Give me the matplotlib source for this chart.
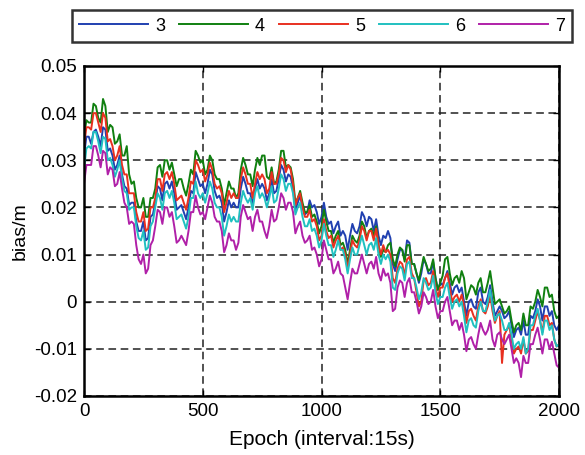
import matplotlib
matplotlib.use("Agg")
import matplotlib.pyplot as plt
import numpy as np

plt.rcParams['font.family'] = ['Liberation Sans', 'DejaVu Sans']
plt.rcParams['axes.unicode_minus'] = False

# epochs every 10, bias values in mm
epoch = np.arange(0, 2001, 10)

bias3 = [31, 35, 35, 33.5, 36, 36.5, 35, 33, 37, 36.5, 32, 32.5, 31, 28, 29, 31, 27, 24.5, 24, 20.5,
         21, 21, 17, 15, 15, 17, 13, 13.5, 18, 18.5, 21, 24.5, 24, 21.5, 25, 25.5, 24, 25.5, 23, 19.5,
         20, 20.5, 19, 17.5, 20, 23.5, 23, 27.5, 26, 24.5, 25, 23, 25, 28, 27, 23.5, 22, 22.5, 21, 17,
         19, 21.5, 20, 21, 20, 20, 24, 26.5, 25, 23, 23, 20.5, 24, 26, 24, 25, 24, 21.5, 23, 26,
         23, 23.5, 26, 29, 28, 25.5, 27, 26.5, 24, 19.5, 21, 22.5, 20, 18.5, 19, 21.5, 20, 20.5, 19, 16.5,
         18, 21, 18, 16.5, 17, 14.5, 16, 17, 14, 15, 14, 11, 14, 16.5, 15, 14.5, 16, 19, 18, 16,
         18, 17.5, 15, 17.5, 14, 12, 14, 13.5, 15, 13.5, 8, 6.5, 9, 11, 11, 9, 13, 12.5, 8, 8,
         6, 4, 6, 9, 8, 6, 6, 8.5, 5, 2.5, 4, 3.5, 5, 6.5, 4, 1.5, 3, 3.5, 2, 3,
         0, -3, 0, 0.5, -1, -1.5, 2, 3, 0, -0.5, 1, 3.5, 0, -3, -2, -1, -2, -3.5, -3, -2,
         -5, -7.5, -6, -5.5, -7, -4, -7, -7, -3, -3.5, -2, 0.5, -1, -4, -1, -1, -3, -2, -5, -6, -5]
bias4 = [35, 38.5, 38, 38, 42, 41.5, 39, 38, 43, 41.5, 36, 37.5, 37, 33.5, 34, 35.5, 31, 31, 33, 27,
         25, 25.5, 22, 20, 20, 22, 18, 18, 22, 22, 24, 28.5, 29, 26.5, 30, 30, 28, 29.5, 27, 24.5,
         26, 26, 24, 22.5, 25, 28, 27, 32, 31, 29.5, 30, 27, 28, 31, 30, 27, 26, 26, 24, 20.5,
         23, 25.5, 24, 24, 22, 23, 28, 30.5, 29, 27, 27, 24.5, 28, 30.5, 29, 31, 31, 26.5, 26, 28.5,
         25, 25.5, 28, 32, 32, 28.5, 29, 28.5, 26, 21, 22, 23.5, 21, 19, 19, 20.5, 18, 18.5, 17, 14.5,
         16, 19.5, 17, 15, 15, 12.5, 14, 15, 12, 12.5, 11, 8, 11, 14, 13, 12.5, 14, 17, 16, 13.5,
         15, 15.5, 14, 16, 12, 9.5, 11, 10.5, 12, 12.5, 9, 7.5, 10, 11.5, 11, 8.5, 12, 12, 8, 8,
         6, 4.5, 7, 9.5, 8, 6.5, 7, 9, 5, 2.5, 4, 5.5, 9, 9.5, 6, 3.5, 5, 5.5, 4, 6.5,
         5, 0.5, 2, 3.5, 3, 1.5, 4, 5, 2, 2, 4, 6.5, 3, -0.5, 0, 0.5, -1, -2.5, -2, -1,
         -4, -6.5, -5, -4.5, -6, -2.5, -5, -5, -1, -1.5, 0, 2.5, 1, -1, 3, 3, 1, 1.5, -2, -3.5, -3]
bias5 = [33, 37, 37, 36.5, 40, 40, 38, 36, 40, 39, 34, 34.5, 33, 30, 31, 33, 29, 27, 27, 23,
         23, 23, 19, 17, 17, 19, 15, 15.5, 20, 20, 22, 26, 26, 23.5, 27, 27.5, 26, 27.5, 25, 21.5,
         22, 22.5, 21, 19.5, 22, 25.5, 25, 30, 29, 27.5, 28, 25.5, 27, 29.5, 28, 25, 24, 24.5, 23, 19,
         21, 23.5, 22, 23, 22, 22, 26, 28.5, 27, 25, 25, 22, 25, 27.5, 26, 27, 26, 23, 24, 27.5,
         25, 25, 27, 30.5, 30, 27.5, 29, 28, 25, 20.5, 22, 23, 20, 18, 18, 19.5, 17, 17.5, 16, 13,
         14, 17.5, 15, 13.5, 14, 11.5, 13, 14, 11, 11.5, 10, 7, 10, 13, 12, 11.5, 13, 16, 15, 13,
         15, 15, 13, 15.5, 12, 10, 12, 10.5, 11, 10, 5, 4, 7, 8.5, 8, 5.5, 9, 9.5, 6, 5,
         2, -1, 0, 4.5, 5, 3.5, 4, 6.5, 3, 1, 3, 3, 5, 6, 3, 0, 1, 1.5, 0, 1.5,
         -1, -4.5, -2, -1.5, -3, -4, -1, 0.5, -2, -2.5, -1, 1.5, -2, -4.5, -3, -2, -13, -7, -6, -5,
         -8, -11, -10, -9.5, -11, -8, -11, -10.5, -6, -6, -4, -2, -4, -6.5, -3, -3, -5, -4.5, -8, -9.5, -9]
bias6 = [28, 32.5, 33, 32.5, 36, 36, 34, 31.5, 35, 34.5, 30, 30.5, 29, 26.5, 28, 30, 26, 23.5, 23, 19.5,
         20, 20, 16, 13.5, 13, 15, 11, 11.5, 16, 17, 20, 23, 22, 19.5, 23, 23.5, 22, 23.5, 21, 17.5,
         18, 18.5, 17, 15.5, 18, 22, 22, 25.5, 23, 22, 23, 21, 23, 25.5, 24, 21, 20, 20, 18, 14,
         16, 18.5, 17, 18, 17, 17, 21, 23.5, 22, 21, 22, 19.5, 23, 24.5, 22, 23, 22, 20, 22, 24.5,
         21, 21.5, 24, 27, 26, 23.5, 25, 25, 23, 18.5, 20, 21, 18, 16, 16, 17.5, 15, 15.5, 14, 11.5,
         13, 16.5, 14, 12, 12, 9.5, 11, 13, 11, 11, 9, 6, 9, 11.5, 10, 10, 12, 14, 12, 10,
         12, 12.5, 11, 13.5, 10, 8, 10, 9, 10, 8.5, 3, 2.5, 6, 7.5, 7, 4.5, 8, 8.5, 5, 5,
         3, 0.5, 2, 5, 4, 2.5, 3, 5.5, 2, -0.5, 1, 1, 3, 4, 1, -1.5, 0, 0.5, -1, 0,
         -3, -6.5, -4, -3.5, -5, -5.5, -2, 0, -2, -2, 0, 2.5, -1, -4, -3, -2.5, -4, -6, -6, -4.5,
         -7, -10, -9, -8.5, -10, -7.5, -11, -10, -5, -5, -3, -1.5, -4, -7, -4, -4, -6, -5, -8, -9.5, -9]
bias7 = [25, 29, 29, 29, 33, 33, 31, 28.5, 32, 31.5, 27, 28.5, 28, 24.5, 25, 27.5, 24, 21, 20, 16.5,
         17, 16.5, 12, 9, 8, 10, 6, 7, 12, 13, 16, 19.5, 19, 16.5, 20, 20, 18, 19, 16, 12.5,
         13, 14, 13, 12, 15, 19, 19, 22.5, 20, 18.5, 19, 17.5, 20, 22.5, 21, 18, 17, 17, 15, 10.5,
         12, 14.5, 13, 13, 11, 12.5, 18, 20.5, 19, 17.5, 18, 15, 18, 19.5, 17, 17, 15, 13.5, 16, 19.5,
         17, 17.5, 20, 23, 22, 19.5, 21, 21, 19, 14.5, 16, 17, 14, 12.5, 13, 14, 11, 11.5, 10, 7.5,
         9, 13, 11, 9, 9, 6, 7, 8.5, 6, 5.5, 3, 0.5, 4, 7, 6, 6, 8, 10, 8, 6,
         8, 8.5, 7, 9.5, 6, 4.5, 7, 5.5, 6, 4, -2, -1.5, 3, 4.5, 4, 1, 4, 5, 2, 2,
         0, -2.5, -1, 2, 1, -0.5, 0, 2.5, -1, -3.5, -2, -2, 0, 1, -2, -5, -4, -4, -6, -4.5,
         -7, -10.5, -8, -7.5, -9, -10, -7, -4.5, -6, -7, -6, -4, -8, -9.5, -7, -6.5, -8, -9, -8, -7,
         -10, -13, -12, -13, -16, -11.5, -13, -13, -9, -9, -7, -5.5, -8, -11, -8, -8, -10, -8.5, -11, -13.5, -14]

names = ['3', '4', '5', '6', '7']
series = [bias3, bias4, bias5, bias6, bias7]
colors = ['#2040b0', '#108010', '#e83020', '#20c0c0', '#b020a8']

yticks = [-0.02, -0.01, 0, 0.01, 0.02, 0.03, 0.04, 0.05]
ylabels = ['-0.02', '-0.01', '0', '0.01', '0.02', '0.03', '0.04', '0.05']
xticks = [0, 500, 1000, 1500, 2000]

fig = plt.figure(figsize=(5.85, 4.55), dpi=100)
ax = fig.add_axes([0.1436, 0.1297, 0.812, 0.7253])

for name, vals, c in zip(names, series, colors):
    ax.plot(epoch, np.array(vals) / 1000.0, color=c, lw=1.4, label=name)

ax.set_xlim(0, 2000)
ax.set_ylim(-0.02, 0.05)
ax.set_xticks(xticks)
ax.set_yticks(yticks)
ax.set_yticklabels(ylabels)
ax.tick_params(direction='in', top=True, right=True, length=4, labelsize=13.5, width=1, pad=5)
ax.grid(True, color='#222222', linestyle=(0, (5, 3)), linewidth=1.1)
for s in ax.spines.values():
    s.set_linewidth(1.8)

ax.set_xlabel('Epoch (interval:15s)', fontsize=15, labelpad=7)
ax.set_ylabel('bias/m', fontsize=14)

leg = fig.legend(ncol=5, mode='expand', loc='center',
                 bbox_to_anchor=(0.123, 0.901, 0.855, 0.0835),
                 fontsize=13, handlelength=3.8, handletextpad=0.4,
                 frameon=True, fancybox=False, borderaxespad=0.0)
leg.get_frame().set_edgecolor('black')
leg.get_frame().set_linewidth(1.8)

fig.savefig('out.png', dpi=100)
